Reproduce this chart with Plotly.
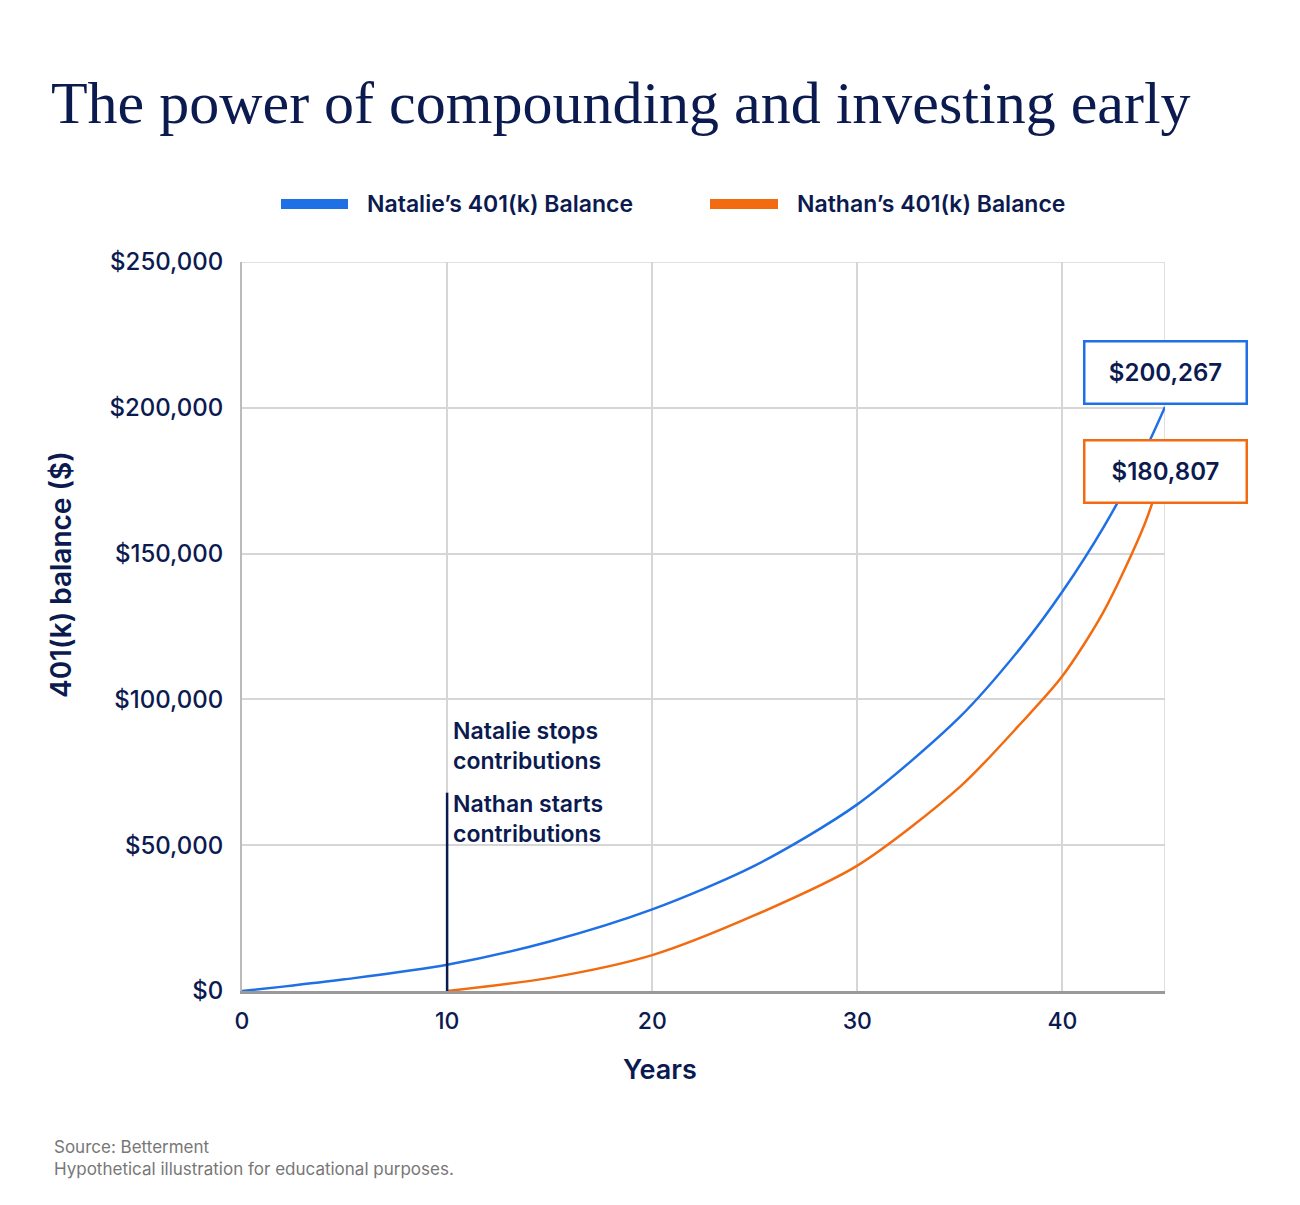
import plotly.graph_objects as go

nat_years = [0, 2, 5, 10, 15, 20, 25, 30, 35, 38, 40, 42, 44, 45]
nat_vals = [0, 1500, 4000, 9000, 17000, 28000, 43000, 64000, 94000, 118000, 137000, 159000, 185000, 200267]
nath_years = [10, 15, 20, 25, 30, 35, 38, 40, 42, 44, 45]
nath_vals = [0, 4500, 12300, 26000, 43000, 70000, 92000, 108000, 130000, 160000, 180807]
y_ticks = [0, 50000, 100000, 150000, 200000, 250000]
y_labels = ["$0", "$50,000", "$100,000", "$150,000", "$200,000", "$250,000"]

NAVY = "#0b1a4f"
BLUE = "#1f6fe5"
ORANGE = "#f26b10"
F = "Inter"

fig = go.Figure()
fig.add_trace(go.Scatter(x=nat_years, y=nat_vals, mode="lines", name="Natalie’s 401(k) Balance",
                         line=dict(color=BLUE, width=2.5, shape="spline", smoothing=0.8)))
fig.add_trace(go.Scatter(x=nath_years, y=nath_vals, mode="lines", name="Nathan’s 401(k) Balance",
                         line=dict(color=ORANGE, width=2.5, shape="spline", smoothing=0.8)))
fig.add_shape(type="line", x0=10, x1=10, y0=0, y1=68000, line=dict(color=NAVY, width=2.5))

def px_x(p): return (p - 242) / 923
def px_y(p): return (991 - p) / 729

for x0, x1, col in [(281, 348, BLUE), (710, 778, ORANGE)]:
    fig.add_shape(type="rect", xref="paper", yref="paper", x0=px_x(x0), x1=px_x(x1), y0=px_y(209), y1=px_y(199),
                  fillcolor=col, line=dict(width=0))

ann = [
    dict(xref="paper", yref="paper", x=px_x(365), y=px_y(204), text="Natalie’s 401(k) Balance", xanchor="left",
         yanchor="middle", showarrow=False, font=dict(size=23, color=NAVY, family=F, weight=600)),
    dict(xref="paper", yref="paper", x=px_x(795), y=px_y(204), text="Nathan’s 401(k) Balance", xanchor="left",
         yanchor="middle", showarrow=False, font=dict(size=23, color=NAVY, family=F, weight=600)),
    dict(x=10.2, y=84000, text="Natalie stops<br>contributions", xanchor="left", yanchor="middle", align="left",
         showarrow=False, font=dict(size=23, color=NAVY, family=F, weight=600)),
    dict(x=10.2, y=59000, text="Nathan starts<br>contributions", xanchor="left", yanchor="middle", align="left",
         showarrow=False, font=dict(size=23, color=NAVY, family=F, weight=600)),
    dict(xref="paper", x=px_x(1165.5), xanchor="center", y=212000, text="$200,267", showarrow=False,
         bordercolor=BLUE, borderwidth=2.5, bgcolor="white", width=158, height=58,
         font=dict(size=24, color=NAVY, family=F, weight=600)),
    dict(xref="paper", x=px_x(1165.5), xanchor="center", y=178300, text="$180,807", showarrow=False,
         bordercolor=ORANGE, borderwidth=2.5, bgcolor="white", width=158, height=58,
         font=dict(size=24, color=NAVY, family=F, weight=600)),
    dict(xref="paper", yref="paper", x=px_x(660), y=px_y(1088), text="Years", showarrow=False,
         font=dict(size=27, color=NAVY, family=F, weight=600)),
    dict(xref="paper", yref="paper", x=px_x(42), y=px_y(575), text="401(k) balance ($)", textangle=-90,
         showarrow=False, font=dict(size=28, color=NAVY, family=F, weight=600)),
    dict(xref="paper", yref="paper", x=px_x(52), y=px_y(1135), xanchor="left", yanchor="top", align="left",
         text="Source: Betterment<br>Hypothetical illustration for educational purposes.", showarrow=False,
         font=dict(size=17, color="#777777", family=F)),
]

fig.update_layout(
    width=1300, height=1205, paper_bgcolor="white", plot_bgcolor="white",
    margin=dict(l=234, r=143, t=254, b=222),
    title=dict(text="The power of compounding and investing early", x=0.033, xanchor="left", y=0.922, yanchor="middle",
               font=dict(family="Liberation Serif", size=60, color=NAVY)),
    showlegend=False, annotations=ann,
    font=dict(family=F, color=NAVY),
)
fig.update_xaxes(range=[0, 45], tickvals=[0, 10, 20, 30, 40], showgrid=True, gridcolor="#d6d6d6", gridwidth=1.5,
                 showline=True, linecolor="#999999", linewidth=2.5, zeroline=False,
                 tickfont=dict(size=23, color=NAVY, weight=500), ticks="", ticklabelstandoff=8)
fig.update_yaxes(range=[0, 250000], tickvals=y_ticks, ticktext=y_labels, showgrid=True, gridcolor="#d6d6d6",
                 gridwidth=1.5, showline=True, linecolor="#bbbbbb", linewidth=2, zeroline=False,
                 tickfont=dict(size=24, color=NAVY, weight=500), ticklabelstandoff=12)
fig.add_shape(type="line", xref="x", yref="paper", x0=45, x1=45, y0=0, y1=1, line=dict(color="#d6d6d6", width=1.5), layer="below")
fig.add_shape(type="line", xref="paper", yref="y", x0=0, x1=1, y0=250000, y1=250000, line=dict(color="#d6d6d6", width=1.5), layer="below")
fig.write_html("out.html")
